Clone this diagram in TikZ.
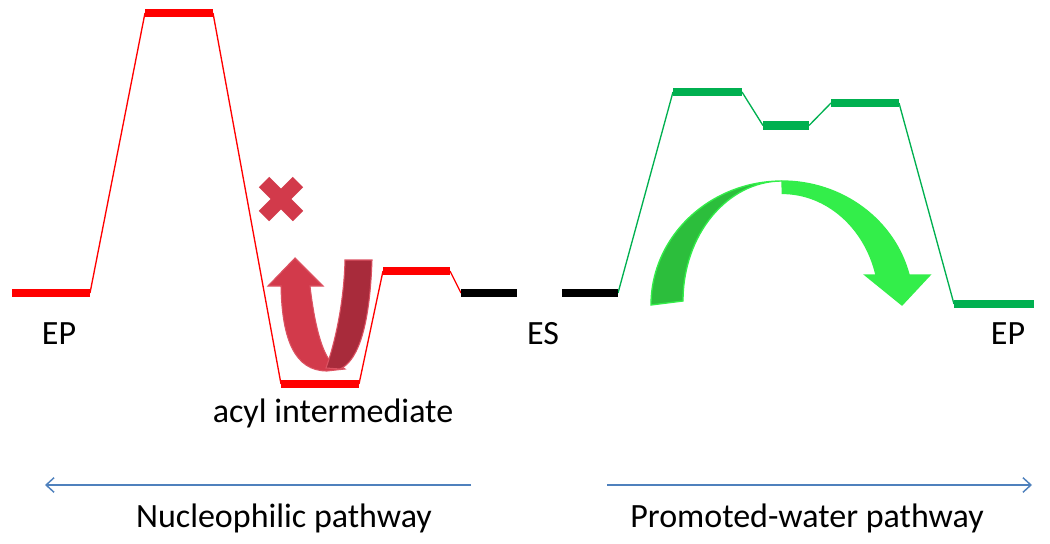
\documentclass[tikz,border=0pt]{standalone}
\usepackage{fontspec}
\setmainfont{Carlito}
\usetikzlibrary{arrows.meta}
\definecolor{nucred}{HTML}{FF0000}
\definecolor{watgreen}{HTML}{00B050}
\definecolor{pathblue}{HTML}{4F81BD}
\definecolor{turnred}{HTML}{D23A4B}
\definecolor{turnredback}{HTML}{A82B3B}
\definecolor{turnredrim}{HTML}{DC5262}
\definecolor{hopgreen}{HTML}{33EE4A}
\definecolor{hopgreenback}{HTML}{2CBE3C}
\tikzset{level/.style={line width=6.5pt},
        link/.style={line width=1pt},
        lab/.style={font=\fontsize{25.5}{30}\selectfont, anchor=base, inner sep=0pt},
        pathway/.style={pathblue, line width=1.1pt, -{Straight Barb[length=6pt,width=11pt]}},
        }

\begin{document}
\begin{tikzpicture}[x=0.75pt,y=-0.75pt]
    \useasboundingbox (0,0) rectangle (1050,543);

    \coordinate (ep1) at (12,293);    \coordinate (ep2) at (90,293);
    \coordinate (ts1) at (145,13);    \coordinate (ts2) at (213,13);
    \coordinate (ac1) at (281,384);   \coordinate (ac2) at (359,384);
    \coordinate (in1) at (383,271);   \coordinate (in2) at (450,271);
    \coordinate (esa1) at (461,293);  \coordinate (esa2) at (517,293);
    \coordinate (esb1) at (562,293);  \coordinate (esb2) at (618,293);
    \coordinate (wa1) at (673,92);    \coordinate (wa2) at (742,92);
    \coordinate (wb1) at (763,125.5); \coordinate (wb2) at (809,125.5);
    \coordinate (wc1) at (831,103);   \coordinate (wc2) at (899,103);
    \coordinate (wp1) at (954,304);   \coordinate (wp2) at (1034,304);

    \draw[link,nucred] (ep2) -- (ts1) (ts2) -- (ac1) (ac2) -- (in1) (in2) -- (esa1);
    \draw[link,watgreen] (esb2) -- (wa1) (wa2) -- (wb1) (wb2) -- (wc1) (wc2) -- (wp1);
    \foreach \a/\b in {ep1/ep2,ts1/ts2,ac1/ac2,in1/in2}
        \draw[level,nucred] (\a) -- (\b);
    \foreach \a/\b in {esa1/esa2,esb1/esb2}
        \draw[level,black] (\a) -- (\b);
    \foreach \a/\b in {wa1/wa2,wb1/wb2,wc1/wc2,wp1/wp2}
        \draw[level,watgreen] (\a) -- (\b);

    \node[lab] (epleft) at (59,344) {EP};
    \node[lab] (es) at (543,344) {ES};
    \node[lab] (epright) at (1008,344) {EP};
    \node[lab] (acyl) at (333,422) {acyl intermediate};

    \draw[turnred, line width=11pt] (264,182) -- (298,216) (264,216) -- (298,182);

    \filldraw[fill=turnred, draw=turnredrim, line width=0.8pt]
        (268,286) -- (295,258) -- (323,286) -- (310,286)
        .. controls (314,320) and (320,345) .. (328,358) -- (345,369)
        -- (327,371) .. controls (295,371) and (282,340) .. (281,286) -- cycle;
    \filldraw[fill=turnredback, draw=turnredrim, line width=0.8pt]
        (345,260) -- (372,260) .. controls (370,320) and (360,360) .. (340,369)
        -- (326,368) .. controls (336,340) and (344,300) .. (345,260) -- cycle;

    \filldraw[fill=hopgreenback, draw=hopgreen, line width=1pt]
        (651,305) arc[start angle=-180, end angle=-90, x radius=131, y radius=124]
        arc[start angle=-90, end angle=-180, x radius=99, y radius=120] -- cycle;
    \filldraw[fill=hopgreen, draw=hopgreen, line width=1pt]
        (782,181) arc[start angle=-90, end angle=-14, x radius=131, y radius=124]
        -- (930,275) -- (902,305) -- (865,275) -- (876,275)
        arc[start angle=-15, end angle=-90, x radius=97, y radius=110] -- cycle;

    \coordinate (nucstart) at (471,485); \coordinate (nucend) at (45,485);
    \coordinate (watstart) at (607,485); \coordinate (watend) at (1032,485);
    \draw[pathway] (nucstart) -- (nucend);
    \draw[pathway] (watstart) -- (watend);
    \node[lab] (nuclab) at (284,527) {Nucleophilic pathway};
    \node[lab] (watlab) at (807,527) {Promoted-water pathway};
\end{tikzpicture}
\end{document}
